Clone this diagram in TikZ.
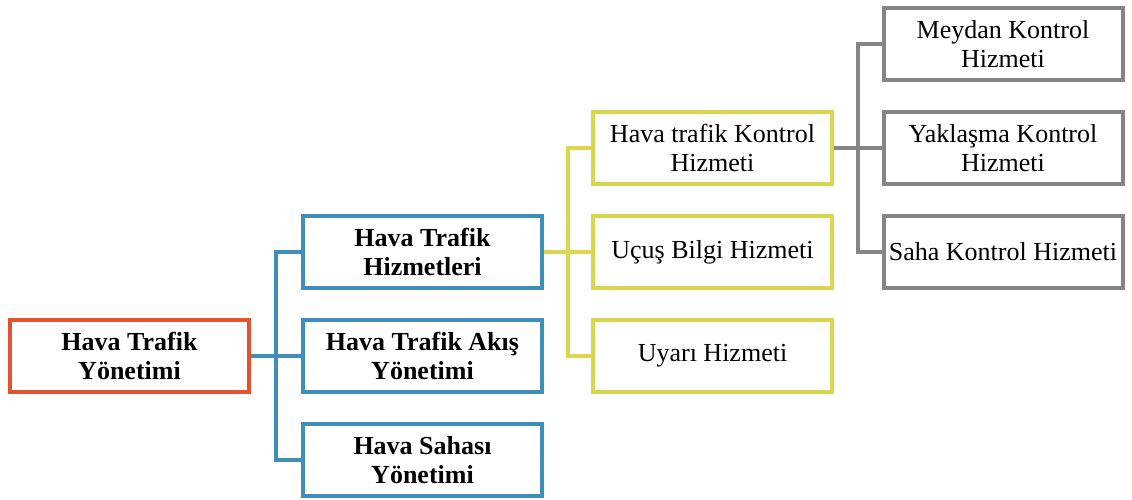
\documentclass[tikz,border=0pt]{standalone}
\usepackage{fontspec}
\setmainfont{Liberation Serif}
\usepackage{xcolor}
\definecolor{rootred}{HTML}{E2532D}
\definecolor{hizblue}{HTML}{3F8DB9}
\definecolor{alyellow}{HTML}{D9D84C}
\definecolor{kgray}{HTML}{858585}
\tikzset{
  kutu/.style={draw, line width=4pt, fill=white, minimum width=239pt, minimum height=72pt, inner sep=0pt, align=center, font=\fontsize{26}{29}\selectfont},
  baglanti/.style={line width=3.5pt}
}

\begin{document}
\begin{tikzpicture}[x=1pt,y=-1pt]
\useasboundingbox (0,0) rectangle (1132,499);
\node[kutu, draw=rootred, font=\fontsize{26}{29}\selectfont\bfseries] (htc) at (129.5,356) {Hava Trafik\\Yönetimi};
\node[kutu, draw=hizblue, font=\fontsize{26}{29}\selectfont\bfseries] (hth) at (422.5,252) {Hava Trafik\\Hizmetleri};
\node[kutu, draw=hizblue, font=\fontsize{26}{29}\selectfont\bfseries] (hta) at (422.5,356) {Hava Trafik Akış\\Yönetimi};
\node[kutu, draw=hizblue, font=\fontsize{26}{29}\selectfont\bfseries] (hsy) at (422.5,460) {Hava Sahası\\Yönetimi};
\node[kutu, draw=alyellow] (htk) at (712.5,148) {Hava trafik Kontrol\\Hizmeti};
\node[kutu, draw=alyellow] (ubh) at (712.5,252) {Uçuş Bilgi Hizmeti};
\node[kutu, draw=alyellow] (uyh) at (712.5,356) {Uyarı Hizmeti};
\node[kutu, draw=kgray] (mkh) at (1003,44) {Meydan Kontrol\\Hizmeti};
\node[kutu, draw=kgray] (ykh) at (1003,148) {Yaklaşma Kontrol\\Hizmeti};
\node[kutu, draw=kgray] (skh) at (1003,252) {Saha Kontrol Hizmeti};
\coordinate (t1) at (276,356);
\coordinate (t2) at (568,252);
\coordinate (t3) at (858,148);
\draw[baglanti, hizblue] (htc.east) -- (t1) |- (hth.west);
\draw[baglanti, hizblue] (t1) -- (hta.west);
\draw[baglanti, hizblue] (t1) |- (hsy.west);
\draw[baglanti, alyellow] (hth.east) -- (t2) |- (htk.west);
\draw[baglanti, alyellow] (t2) -- (ubh.west);
\draw[baglanti, alyellow] (t2) |- (uyh.west);
\draw[baglanti, kgray] (htk.east) -- (t3) |- (mkh.west);
\draw[baglanti, kgray] (t3) -- (ykh.west);
\draw[baglanti, kgray] (t3) |- (skh.west);
\end{tikzpicture}
\end{document}
